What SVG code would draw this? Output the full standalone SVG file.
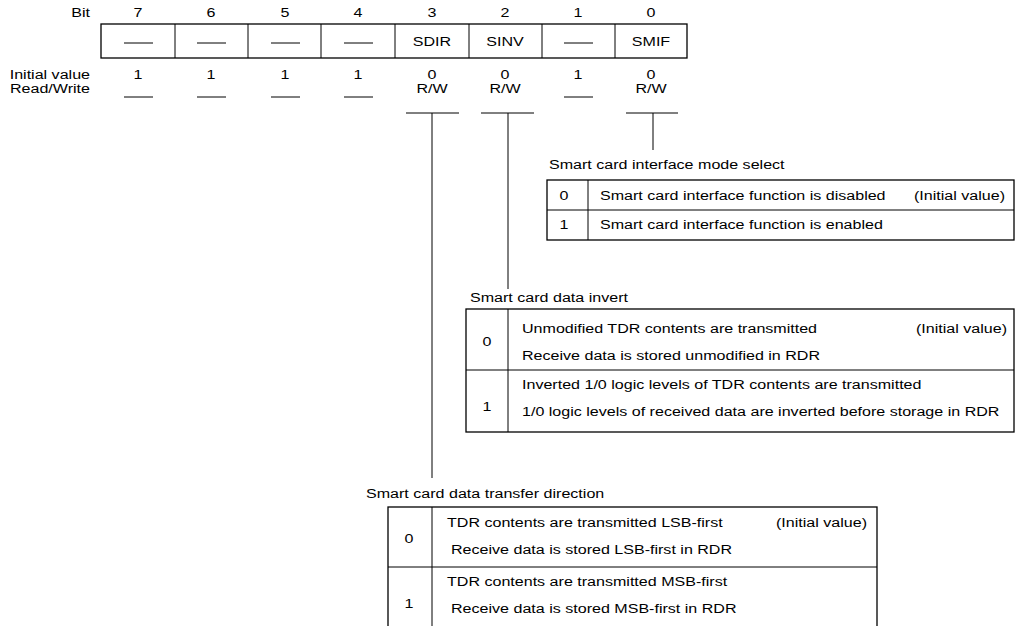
<svg xmlns="http://www.w3.org/2000/svg" width="1019" height="626" viewBox="0 0 1019 626">
<style>
text{font-family:"Liberation Sans",Arial,Helvetica,sans-serif;font-size:13.5px;fill:#000}
.c{text-anchor:middle}
.r{text-anchor:end}
.b{fill:none;stroke:#000;stroke-width:1.3}
.l{fill:none;stroke:#000;stroke-width:1}
</style>
<rect width="1019" height="626" fill="#fff"/>
<g id="register">
<text class="r" transform="translate(90,17) scale(1.19,1)">Bit</text>
<text class="c" transform="translate(138,17) scale(1.19,1)">7</text>
<text class="c" transform="translate(211,17) scale(1.19,1)">6</text>
<text class="c" transform="translate(285,17) scale(1.19,1)">5</text>
<text class="c" transform="translate(358,17) scale(1.19,1)">4</text>
<text class="c" transform="translate(432,17) scale(1.19,1)">3</text>
<text class="c" transform="translate(505,17) scale(1.19,1)">2</text>
<text class="c" transform="translate(578,17) scale(1.19,1)">1</text>
<text class="c" transform="translate(651,17) scale(1.19,1)">0</text>
<rect class="b" x="101" y="24" width="586" height="34"/>
<path class="l" d="M175 24V58M248 24V58M321 24V58M395 24V58M469 24V58M542 24V58M615 24V58"/>
<path class="l" d="M124 43H153M197 43H226M271 43H300M344 43H373M564 43H593"/>
<text class="c" transform="translate(432,46) scale(1.19,1)">SDIR</text>
<text class="c" transform="translate(505,46) scale(1.19,1)">SINV</text>
<text class="c" transform="translate(651,46) scale(1.19,1)">SMIF</text>
<text class="r" transform="translate(90,79) scale(1.19,1)">Initial value</text>
<text class="r" transform="translate(90,93) scale(1.19,1)">Read/Write</text>
<text class="c" transform="translate(138,79) scale(1.19,1)">1</text>
<text class="c" transform="translate(211,79) scale(1.19,1)">1</text>
<text class="c" transform="translate(285,79) scale(1.19,1)">1</text>
<text class="c" transform="translate(358,79) scale(1.19,1)">1</text>
<text class="c" transform="translate(432,79) scale(1.19,1)">0</text>
<text class="c" transform="translate(505,79) scale(1.19,1)">0</text>
<text class="c" transform="translate(578,79) scale(1.19,1)">1</text>
<text class="c" transform="translate(651,79) scale(1.19,1)">0</text>
<path class="l" d="M124 97H153M197 97H226M271 97H300M344 97H373M564 97H593"/>
<text class="c" transform="translate(432,93) scale(1.19,1)">R/W</text>
<text class="c" transform="translate(505,93) scale(1.19,1)">R/W</text>
<text class="c" transform="translate(651,93) scale(1.19,1)">R/W</text>
</g>
<g id="connectors">
<path class="l" d="M406 113H459M432 113V478"/>
<path class="l" d="M481 113H534M508 113V289"/>
<path class="l" d="M626 113H678M653 113V150"/>
</g>
<g id="smif">
<text transform="translate(549,169) scale(1.19,1)">Smart card interface mode select</text>
<rect class="b" x="547" y="180" width="467" height="60"/>
<path class="l" d="M547 210H1014M588 180V240"/>
<text class="c" transform="translate(564,200) scale(1.19,1)">0</text>
<text transform="translate(600,200) scale(1.19,1)">Smart card interface function is disabled</text>
<text class="r" transform="translate(1005,200) scale(1.19,1)">(Initial value)</text>
<text class="c" transform="translate(564,229) scale(1.19,1)">1</text>
<text transform="translate(600,229) scale(1.19,1)">Smart card interface function is enabled</text>
</g>
<g id="sinv">
<text transform="translate(470,302) scale(1.19,1)">Smart card data invert</text>
<rect class="b" x="466" y="309" width="548" height="123"/>
<path class="l" d="M466 370H1014M508 309V432"/>
<text class="c" transform="translate(487,346) scale(1.19,1)">0</text>
<text transform="translate(522,333) scale(1.19,1)">Unmodified TDR contents are transmitted</text>
<text class="r" transform="translate(1007,333) scale(1.19,1)">(Initial value)</text>
<text transform="translate(522,360) scale(1.19,1)">Receive data is stored unmodified in RDR</text>
<text class="c" transform="translate(487,411) scale(1.19,1)">1</text>
<text transform="translate(522,389) scale(1.19,1)">Inverted 1/0 logic levels of TDR contents are transmitted</text>
<text transform="translate(522,416) scale(1.19,1)">1/0 logic levels of received data are inverted before storage in RDR</text>
</g>
<g id="sdir">
<text transform="translate(366,498) scale(1.19,1)">Smart card data transfer direction</text>
<rect class="b" x="388" y="507" width="489" height="125"/>
<path class="l" d="M388 567H877M432 507V632"/>
<text class="c" transform="translate(409,543) scale(1.19,1)">0</text>
<text transform="translate(447,527) scale(1.19,1)">TDR contents are transmitted LSB-first</text>
<text class="r" transform="translate(867,527) scale(1.19,1)">(Initial value)</text>
<text transform="translate(451,554) scale(1.19,1)">Receive data is stored LSB-first in RDR</text>
<text class="c" transform="translate(409,608) scale(1.19,1)">1</text>
<text transform="translate(447,586) scale(1.19,1)">TDR contents are transmitted MSB-first</text>
<text transform="translate(451,613) scale(1.19,1)">Receive data is stored MSB-first in RDR</text>
</g>
</svg>
